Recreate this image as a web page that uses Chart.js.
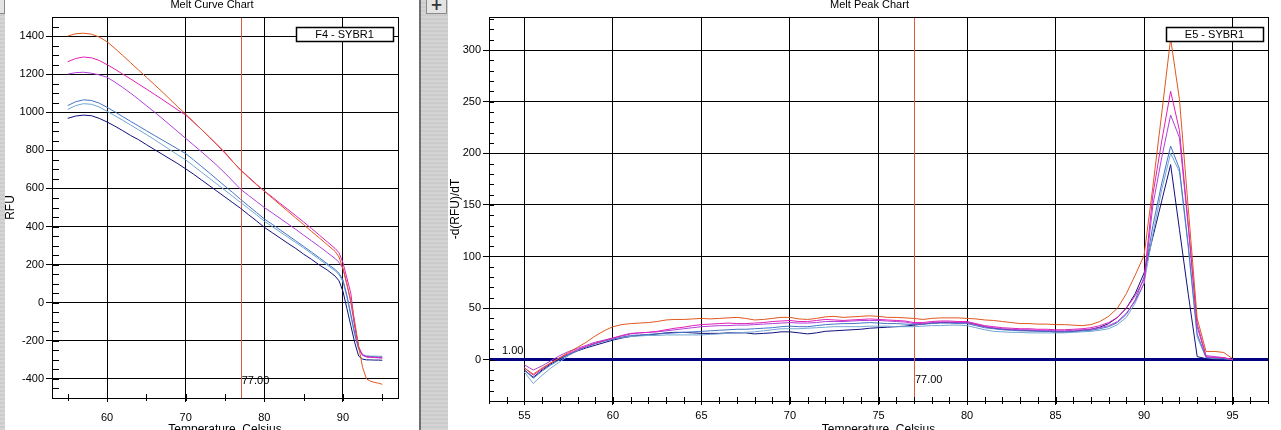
<!DOCTYPE html>
<html>
<head>
<meta charset="utf-8">
<script src="https://cdn.jsdelivr.net/npm/chart.js@4.4.1/dist/chart.umd.min.js"></script>
<style>
  html, body { margin: 0; padding: 0; }
  body { width: 1281px; height: 430px; overflow: hidden; background: #fff; position: relative;
         font-family: "Liberation Sans", Arial, sans-serif; }
  canvas { position: absolute; top: 0; }
  #melt { left: 5px; }
  #peak { left: 448px; }
  .strip { position: absolute; top: 0; height: 430px;
           background: repeating-linear-gradient(180deg, #d4d4d4 0px, #d4d4d4 2px, #c6c6c6 3px, #d0d0d0 4px); }
  #leftStrip { left: 0; width: 5px; }
  #divider { left: 419px; width: 29px; border-left: 2px solid #6e6e6e; box-sizing: border-box; }
  .btn { position: absolute; top: -2px; height: 16px; background: #e4e4e4; border: 1px solid #8a8a8a;
         box-sizing: border-box; font: bold 15px "DejaVu Sans", sans-serif; line-height: 12px; text-align: center; color: #333; }
  #plusBtn { left: 426px; width: 21px; }
  #cornerBtn { left: -16px; width: 21px; }
</style>
</head>
<body>
<div class="strip" id="leftStrip"></div>
<div class="btn" id="cornerBtn"></div>
<canvas id="melt" width="414" height="440"></canvas>
<div class="strip" id="divider"></div>
<div class="btn" id="plusBtn">+</div>
<canvas id="peak" width="833" height="440"></canvas>
<script>
// ---- Melt curve (left) : temperature points and RFU per well ----
const meltTemps = [55, 56, 57, 58, 59, 60, 61, 62, 63, 64, 65, 66, 67, 68, 69, 70, 71, 72, 73, 74,
  75, 76, 77, 78, 79, 80, 81, 82, 83, 84, 85, 86, 87, 88, 89, 89.5, 90, 90.5, 91, 91.5,
  92, 92.5, 93, 93.5, 94, 94.5, 95];
const meltOrange = [1400, 1412, 1415, 1410, 1395, 1370, 1335, 1298, 1260, 1222, 1184, 1146, 1108, 1068, 1028, 990, 950, 910, 870, 830,
  790, 740, 695, 657, 620, 585, 550, 515, 480, 445, 410, 375, 340, 305, 270, 240, 180, 95, 15, -100,
  -230, -340, -400, -412, -418, -422, -428];
const meltMagenta = [1265, 1282, 1290, 1286, 1272, 1250, 1226, 1200, 1175, 1148, 1122, 1095, 1068, 1040, 1012, 985, 948, 910, 870, 828,
  785, 740, 697, 660, 622, 587, 555, 522, 490, 457, 424, 390, 355, 320, 285, 262, 210, 130, 50, -120,
  -235, -276, -284, -286, -287, -288, -290];
const meltPurple = [1200, 1208, 1210, 1205, 1196, 1184, 1158, 1130, 1100, 1068, 1035, 1002, 968, 933, 898, 863, 828, 793, 757, 720,
  680, 638, 595, 563, 532, 500, 472, 443, 414, 385, 355, 325, 295, 264, 232, 212, 180, 100, 0, -125,
  -232, -275, -284, -286, -288, -289, -290];
const meltSteel = [1035, 1055, 1065, 1062, 1048, 1026, 1002, 977, 952, 928, 903, 879, 855, 831, 807, 783, 750, 716, 682, 647,
  612, 578, 542, 508, 474, 440, 412, 383, 354, 325, 296, 266, 236, 205, 175, 155, 120, 40, -60, -160,
  -240, -275, -282, -283, -284, -285, -285];
const meltLight = [1015, 1035, 1045, 1042, 1028, 1005, 982, 958, 933, 908, 883, 857, 830, 803, 776, 750, 718, 686, 654, 622,
  590, 558, 526, 494, 462, 428, 400, 372, 344, 316, 288, 258, 228, 198, 168, 148, 110, 30, -70, -170,
  -245, -272, -278, -280, -280, -281, -281];
const meltNavy = [968, 980, 985, 982, 968, 949, 927, 903, 878, 856, 830, 805, 780, 755, 730, 703, 675, 645, 615, 585,
  555, 525, 495, 462, 430, 396, 368, 340, 312, 285, 255, 228, 198, 172, 140, 115, 60, -30, -120, -210,
  -280, -296, -300, -300, -301, -301, -302];
const meltXTicks = [60, 70, 80, 90];
const meltYTicks = [-400, -200, 0, 200, 400, 600, 800, 1000, 1200, 1400];

// ---- Melt peak (right) : -d(RFU)/dT per well, 0.5 C steps ----
const peakTemps = [55, 55.5, 56, 56.5, 57, 57.5, 58, 58.5, 59, 59.5,
  60, 60.5, 61, 61.5, 62, 62.5, 63, 63.5, 64, 64.5,
  65, 65.5, 66, 66.5, 67, 67.5, 68, 68.5, 69, 69.5,
  70, 70.5, 71, 71.5, 72, 72.5, 73, 73.5, 74, 74.5,
  75, 75.5, 76, 76.5, 77, 77.5, 78, 78.5, 79, 79.5,
  80, 80.5, 81, 81.5, 82, 82.5, 83, 83.5, 84, 84.5,
  85, 85.5, 86, 86.5, 87, 87.5, 88, 88.5, 89, 89.5,
  90, 90.5, 91, 91.5, 92, 92.5, 93, 93.5, 94, 94.5,
  95];
const peakOrange = [-8, -14, -8, -3, 2, 7, 12, 17, 23, 28,
  32, 34, 35, 35.5, 36, 37, 38.5, 39, 39, 39.5,
  40, 39.5, 40, 40.5, 41, 40, 38.5, 39, 40, 41,
  41, 39.5, 39, 40, 41.5, 42, 41, 41.5, 42, 42.5,
  42, 41, 41, 40.5, 40, 39, 40, 40.5, 40.5, 40.5,
  40, 39.5, 38.5, 38, 37, 36, 35, 35, 34.5, 34.5,
  34, 34, 33.5, 33, 34, 37, 42, 50, 64, 82,
  101, 168, 239, 311, 252, 146, 40, 8, 8, 7,
  1];
const peakMagenta = [-8, -15, -9, -3, 2, 6, 10, 13, 16, 18.5,
  21, 23, 25, 26, 26.5, 27.5, 29, 30.5, 31.5, 33,
  34, 34.5, 35, 35.5, 35, 35, 35.5, 36, 37, 37.5,
  38, 37, 37, 38, 39, 38.5, 38, 38.5, 39, 39.5,
  39, 38.5, 38, 37.5, 36, 36, 37, 37.5, 37.5, 37,
  37, 35, 33, 32, 31, 30.5, 30, 30, 29.5, 29.5,
  29, 29, 29.5, 30, 31, 33, 36, 41, 50, 62,
  78, 160, 212, 260, 222, 130, 32, 3, 2, 2,
  0];
const peakPurple = [-5, -10, -6, -1, 4, 8, 11, 14, 17, 19,
  21, 23.5, 25.5, 26, 26.5, 27, 28, 29, 30, 31,
  32, 32.5, 33, 33, 33.5, 33.5, 34, 34.5, 35, 35.5,
  36, 35.5, 35.5, 36, 37, 37, 37, 37.5, 38, 38,
  38, 37.5, 37, 36.5, 35, 35, 36, 36.5, 36.5, 36,
  36, 34, 32, 31, 30, 29.5, 29, 29, 28.5, 28.5,
  28, 28, 28.5, 29, 29.5, 31, 33, 37, 45, 57,
  74, 150, 196, 237, 215, 128, 35, 4, 3, 2,
  0];
const peakSteel = [-10, -18, -11, -5, 0, 5, 9, 12.5, 15.5, 18,
  20, 22, 23.5, 24, 24.5, 25, 25.5, 26, 26.5, 27,
  27.5, 28, 28.5, 29, 29.5, 29.5, 30, 30.5, 31, 32,
  32.5, 32, 32, 33, 34, 34.5, 35, 35, 35.5, 36,
  35.5, 35, 35, 34.5, 34, 34.5, 35, 35.5, 35.5, 35,
  35, 33, 31, 30, 29, 28.5, 28, 28, 27.5, 27.5,
  27, 27, 27.5, 28, 28.5, 30, 32, 36, 44, 58,
  80, 130, 171, 207, 185, 110, 25, 2, 2, 1,
  0];
const peakLight = [-12, -23, -15, -8, -2, 4, 9, 12.5, 15.5, 18,
  20, 21.5, 22.5, 23, 23.5, 23.5, 24, 24, 24, 24,
  24, 24.5, 25, 25.5, 26, 26.5, 27, 28, 29, 30,
  30, 30, 30.5, 31, 31.5, 32, 32, 32, 32, 32.5,
  32.5, 32.5, 32, 32, 32, 32.5, 33, 33, 33.5, 33.5,
  33, 31, 29, 27.5, 27, 26.5, 26.5, 26, 26, 26,
  26, 26, 26.5, 27, 27.5, 28.5, 30, 34, 41, 55,
  74, 122, 165, 200, 182, 108, 22, 2, 1, 1,
  0];
const peakNavy = [-10, -17, -10, -4, 1, 5, 8.5, 11.5, 14, 16.5,
  19, 21, 22.5, 23.5, 24, 25, 26, 26.5, 26.5, 26,
  25.5, 25.5, 25.5, 26, 26, 26, 25, 25.5, 26, 27,
  27, 26, 25, 26, 27.5, 28, 28.5, 29, 29.5, 30.5,
  31, 31.5, 32, 32.5, 33.5, 34.5, 35.5, 36, 36, 36,
  36, 34, 32, 30.5, 29.5, 29, 28.5, 28, 28, 27.5,
  27, 27, 27.5, 28.5, 29.5, 31.5, 35, 41, 50, 64,
  84, 119, 154, 189, 126, 63, 3, 1, 0.5, 0.5,
  0];
const peakXTicks = [55, 60, 65, 70, 75, 80, 85, 90, 95];
const peakYTicks = [0, 50, 100, 150, 200, 250, 300];

const markerTemp = 77;
const peakThreshold = 1;
const wellColors = ['#e0571f', '#e020b8', '#b23ed8', '#4574c4', '#72a6d2', '#10107e'];

const FONT = '"Liberation Sans", Arial, sans-serif';

// decorations drawn on top of the library's scales (frame, minor ticks, title, well label)
const chartDecor = {
  id: 'chartDecor',
  beforeDatasetsDraw(chart, args, o) {
    const { ctx, chartArea: a, scales: { x, y } } = chart;
    ctx.save();
    if (o.threshold !== undefined) {
      const ty = Math.round(y.getPixelForValue(o.threshold)) + 0.5;
      ctx.strokeStyle = '#000080';
      ctx.lineWidth = 3;
      ctx.beginPath();
      ctx.moveTo(a.left, ty);
      ctx.lineTo(a.right, ty);
      ctx.stroke();
    }
    // marker line, drawn as a filled 1px column so it stays crisp
    const mx = Math.round(x.getPixelForValue(o.marker));
    ctx.fillStyle = '#dc5a3e';
    ctx.fillRect(mx, a.top, 1, a.bottom - a.top);
    ctx.restore();
  },
  afterDraw(chart, args, o) {
    const { ctx, chartArea: a, scales: { x, y } } = chart;
    ctx.save();
    ctx.strokeStyle = '#000';
    ctx.lineWidth = 1;
    ctx.strokeRect(Math.round(a.left) + 0.5, Math.round(a.top) + 0.5,
      Math.round(a.width), Math.round(a.height));

    // minor ticks inside the frame
    ctx.beginPath();
    for (let v = Math.ceil(x.min / o.xMinor) * o.xMinor; v <= x.max; v += o.xMinor) {
      const px = Math.round(x.getPixelForValue(v)) + 0.5;
      ctx.moveTo(px, a.bottom + 3);
      ctx.lineTo(px, a.bottom - o.xLen);
    }
    for (let v = Math.ceil(y.min / o.yMinor) * o.yMinor; v <= y.max; v += o.yMinor) {
      const py = Math.round(y.getPixelForValue(v)) + 0.5;
      ctx.moveTo(a.left, py);
      ctx.lineTo(a.left + o.yLen, py);
    }
    ctx.stroke();

    ctx.fillStyle = '#000';
    ctx.font = '11px ' + FONT;
    ctx.textBaseline = 'middle';

    // chart title
    ctx.textAlign = 'center';
    ctx.fillText(o.title, chart.width / 2 + o.titleDx, 5);

    // well label box
    const bw = 97, bh = 14;
    const bx = Math.round(a.right) - 5 - bw, by = Math.round(a.top) + 10;
    ctx.fillStyle = '#fff';
    ctx.fillRect(bx, by, bw, bh);
    ctx.lineWidth = 1.5;
    ctx.strokeRect(bx + 0.5, by + 0.5, bw, bh);
    ctx.fillStyle = '#000';
    ctx.fillText(o.well, bx + bw / 2, by + bh / 2 + 1);

    // marker value
    ctx.textAlign = 'left';
    ctx.fillText(o.marker.toFixed(2), x.getPixelForValue(o.marker) + 1, a.bottom - o.markerDy);

    if (o.threshold !== undefined) {
      ctx.fillText(o.threshold.toFixed(2), a.left + 13, y.getPixelForValue(o.threshold) - 8);
    }
    ctx.restore();
  }
};

function pts(xs, ys) {
  return xs.map((t, i) => ({ x: t, y: ys[i] }));
}

function fixTicks(values) {
  return scale => { scale.ticks = values.map(v => ({ value: v })); };
}

function makeChart(id, temps, series, cfg) {
  return new Chart(document.getElementById(id), {
    type: 'line',
    data: {
      datasets: series.map((s, i) => ({
        data: pts(temps, s),
        borderColor: wellColors[i],
        borderWidth: 1,
        pointRadius: 0,
        tension: 0,
        fill: false
      }))
    },
    options: {
      responsive: false,
      animation: false,
      devicePixelRatio: 1,
      layout: { padding: { top: 17, right: cfg.padRight, left: 0, bottom: 0 } },
      plugins: {
        legend: { display: false },
        tooltip: { enabled: false },
        chartDecor: cfg.decor
      },
      scales: {
        x: {
          type: 'linear',
          min: 53,
          max: 97,
          afterBuildTicks: fixTicks(cfg.xTicks),
          afterFit: s => { s.height = cfg.xHeight; },
          border: { display: false },
          grid: { color: '#000', lineWidth: 1, tickLength: 4 },
          ticks: { color: '#000', font: { family: FONT, size: 11 }, padding: cfg.xPad, maxRotation: 0,
                   callback: v => String(v) },
          title: { display: true, text: 'Temperature, Celsius', color: '#000',
                   font: { family: FONT, size: 12, lineHeight: 1 }, padding: { top: 0, bottom: 4 } }
        },
        y: {
          type: 'linear',
          min: cfg.yMin,
          max: cfg.yMax,
          afterBuildTicks: fixTicks(cfg.yTicks),
          afterFit: s => { s.width = cfg.yWidth; },
          border: { display: false },
          grid: { color: '#000', lineWidth: 1, tickLength: 6 },
          ticks: { color: '#000', font: { family: FONT, size: 11 }, padding: 2,
                   callback: v => String(v) },
          title: { display: true, text: cfg.yTitle, color: '#000',
                   font: { family: FONT, size: 12, lineHeight: 1 }, padding: { top: cfg.yTitlePad, bottom: 0 } }
        }
      }
    },
    plugins: [chartDecor]
  });
}

makeChart('melt', meltTemps,
  [meltOrange, meltMagenta, meltPurple, meltSteel, meltLight, meltNavy], {
    padRight: 21, xHeight: 42, yWidth: 47, xPad: 9,
    yMin: -500, yMax: 1500, xTicks: meltXTicks, yTicks: meltYTicks,
    yTitle: 'RFU', yTitlePad: 0,
    decor: { marker: markerTemp, title: 'Melt Curve Chart', titleDx: 0, well: 'F4 - SYBR1',
             xMinor: 5, yMinor: 50, xLen: 4, yLen: 7, markerDy: 17 }
  });

makeChart('peak', peakTemps,
  [peakOrange, peakMagenta, peakPurple, peakSteel, peakLight, peakNavy], {
    padRight: 13, xHeight: 39, yWidth: 41, xPad: 4,
    yMin: -40, yMax: 332, xTicks: peakXTicks, yTicks: peakYTicks,
    yTitle: '-d(RFU)/dT', yTitlePad: 2,
    decor: { marker: markerTemp, title: 'Melt Peak Chart', titleDx: 5, well: 'E5 - SYBR1',
             xMinor: 1, yMinor: 10, xLen: 4, yLen: 5, markerDy: 21, threshold: peakThreshold }
  });
</script>
</body>
</html>
